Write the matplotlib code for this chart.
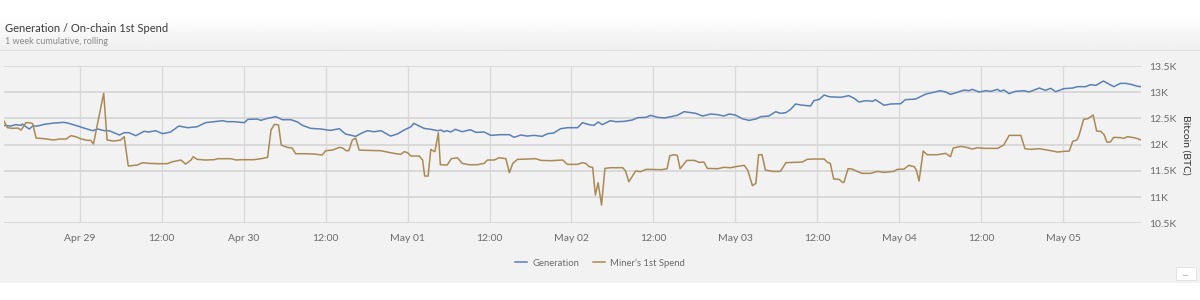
import numpy as np
import matplotlib
matplotlib.use("Agg")
import matplotlib.pyplot as plt
import matplotlib.dates as mdates
from matplotlib.patches import Rectangle

# ...   data (hours since Apr 29 00:00, BTC)
gen_hours = [-11.1, -10.1, -9.4, -8.6, -8.4, -7.9, -7.4, -6.9, -6.2, -5.2, -3.8, -2.3, -1.6, -0.3,
             0.6, 1.9, 2.6, 3.6, 4.3, 5.8, 6.5, 7.2, 8.2, 9.4, 10.1, 11.1, 12.1, 13.3, 14.5, 15.8,
             17.2, 18.4, 19.7, 20.9, 21.6, 22.6, 24.1, 24.6, 26.0, 26.5, 27.5, 28.7, 29.7, 30.9,
             31.9, 32.6, 33.8, 35.3, 36.7, 38.0, 38.9, 40.4, 41.2, 42.1, 43.1, 44.1, 45.5, 46.5,
             47.5, 48.5, 48.9, 50.4, 51.4, 52.4, 52.9, 53.3, 53.8, 54.3, 55.0, 56.0, 57.2, 58.0,
             59.2, 60.2, 61.6, 62.9, 63.6, 64.6, 65.5, 66.5, 67.7, 68.5, 69.4, 70.4, 71.4, 72.9,
             73.6, 74.6, 75.3, 75.9, 76.5, 77.7, 78.5, 79.7, 80.9, 81.7, 82.9, 83.6, 84.6, 85.6,
             86.5, 87.5, 88.5, 89.5, 90.2, 91.2, 92.4, 93.4, 94.3, 95.1, 96.0, 97.0, 98.0, 99.0,
             99.7, 100.9, 101.9, 102.6, 103.4, 104.1, 104.8, 105.6, 107.0, 107.5, 108.3, 109.0,
             109.7, 111.4, 112.6, 113.4, 114.1, 115.1, 116.1, 116.5, 117.8, 118.7, 120.2, 120.9,
             122.4, 123.9, 124.8, 126.0, 126.8, 127.5, 128.5, 129.5, 130.2, 130.7, 131.7, 132.7,
             133.4, 134.4, 134.8, 135.3, 136.1, 137.0, 138.3, 139.0, 140.5, 141.4, 142.2, 142.9,
             144.1, 145.4, 146.1, 147.3, 148.0, 148.8, 149.9, 150.7, 151.4, 152.4, 153.2, 154.1,
             154.9, 155.4]
generation = [12368, 12355, 12381, 12368, 12393, 12342, 12298, 12355, 12355, 12387, 12412, 12425,
              12406, 12355, 12317, 12266, 12298, 12266, 12266, 12184, 12228, 12228, 12171, 12254,
              12241, 12266, 12209, 12241, 12355, 12323, 12342, 12419, 12438, 12457, 12438, 12438,
              12419, 12482, 12489, 12463, 12502, 12533, 12476, 12476, 12432, 12368, 12311, 12298,
              12272, 12304, 12203, 12158, 12215, 12266, 12247, 12266, 12164, 12203, 12279, 12342,
              12406, 12311, 12292, 12266, 12279, 12247, 12266, 12241, 12292, 12247, 12285, 12234,
              12241, 12177, 12190, 12190, 12139, 12184, 12164, 12177, 12158, 12209, 12222, 12304,
              12323, 12323, 12419, 12381, 12368, 12432, 12381, 12457, 12438, 12444, 12470, 12514,
              12521, 12559, 12521, 12508, 12533, 12559, 12629, 12610, 12597, 12546, 12584, 12572,
              12546, 12584, 12565, 12495, 12463, 12489, 12533, 12546, 12629, 12597, 12610, 12673,
              12775, 12756, 12737, 12839, 12864, 12947, 12915, 12902, 12934, 12883, 12813, 12839,
              12826, 12858, 12750, 12775, 12781, 12858, 12870, 12966, 12991, 13029, 13004, 12959,
              12998, 13042, 13029, 13055, 13004, 13029, 13017, 13055, 13017, 13042, 12972, 13017,
              13029, 13004, 13080, 13036, 13074, 13010, 13068, 13080, 13106, 13106, 13144, 13131,
              13214, 13157, 13106, 13169, 13169, 13144, 13112, 13106]

spend_hours = [-11.1, -10.6, -9.9, -9.1, -8.6, -8.2, -7.9, -7.4, -6.9, -6.4, -5.2, -3.8, -3.0,
               -2.0, -1.3, -0.6, 0.1, 1.1, 1.6, 2.0, 2.6, 3.1, 3.5, 4.0, 5.0, 6.0, 6.5, 7.1, 8.4,
               9.2, 10.1, 11.4, 12.8, 13.6, 14.8, 15.5, 16.3, 16.6, 17.2, 18.4, 19.7, 20.2, 22.1,
               22.9, 23.6, 25.5, 26.8, 27.5, 28.0, 28.5, 29.1, 29.5, 30.4, 31.1, 31.6, 33.1, 34.3,
               35.5, 36.0, 37.0, 38.0, 38.5, 39.0, 39.4, 39.9, 40.4, 40.9, 42.1, 44.0, 45.0, 46.0,
               47.0, 47.5, 48.0, 48.5, 49.7, 50.2, 50.5, 51.0, 51.4, 51.7, 52.0, 52.5, 52.8, 53.8,
               54.4, 55.3, 56.0, 57.0, 58.2, 59.2, 59.7, 60.7, 61.4, 62.4, 62.9, 63.4, 64.1, 65.6,
               66.8, 67.5, 69.0, 70.7, 71.4, 72.9, 73.6, 74.1, 74.6, 75.1, 75.5, 75.9, 76.4, 76.9,
               77.7, 79.5, 79.9, 80.4, 81.4, 82.1, 82.9, 83.6, 85.1, 86.0, 86.4, 87.0, 87.5, 87.9,
               88.9, 90.0, 90.7, 91.4, 91.9, 93.4, 94.3, 95.3, 96.3, 97.3, 97.8, 98.5, 99.0, 99.4,
               99.9, 100.4, 101.4, 102.6, 103.4, 104.6, 105.8, 106.5, 107.5, 109.0, 109.5, 109.9,
               110.4, 111.2, 111.7, 111.9, 112.5, 113.1, 113.9, 114.6, 115.8, 116.8, 117.8, 119.2,
               119.7, 120.7, 121.4, 122.2, 122.5, 122.9, 123.5, 124.1, 125.6, 126.8, 127.5, 127.9,
               129.0, 129.9, 130.7, 131.4, 132.4, 134.4, 135.3, 136.1, 137.8, 138.4, 139.2, 140.5,
               141.7, 143.2, 144.1, 144.9, 145.4, 146.0, 146.3, 147.0, 147.6, 148.4, 148.9, 149.5,
               150.0, 150.4, 150.9, 151.4, 152.4, 152.9, 153.4, 154.4, 154.9, 155.4]
miner_spend = [12451, 12324, 12311, 12317, 12279, 12355, 12419, 12419, 12400, 12126, 12114, 12088,
               12107, 12107, 12171, 12152, 12114, 12082, 12082, 12012, 12406, 12724, 12979, 12088,
               12069, 12088, 12152, 11592, 11611, 11656, 11643, 11637, 11637, 11675, 11707, 11630,
               11707, 11770, 11719, 11707, 11713, 11732, 11732, 11707, 11713, 11713, 11738, 11757,
               12279, 12387, 12374, 11993, 11948, 11935, 11827, 11827, 11821, 11802, 11885, 11897,
               11948, 11935, 11885, 11885, 12088, 12126, 11897, 11891, 11885, 11859, 11834, 11815,
               11866, 11846, 11783, 11783, 11707, 11401, 11401, 11910, 11885, 11866, 12228, 11617,
               11611, 11732, 11751, 11643, 11617, 11617, 11643, 11707, 11707, 11751, 11732, 11465,
               11643, 11719, 11726, 11732, 11700, 11694, 11707, 11624, 11624, 11656, 11643, 11579,
               11567, 11039, 11274, 10848, 11547, 11560, 11560, 11503, 11293, 11497, 11484, 11528,
               11528, 11522, 11541, 11789, 11808, 11796, 11541, 11700, 11700, 11662, 11668, 11547,
               11541, 11567, 11560, 11586, 11605, 11516, 11217, 11261, 11808, 11808, 11516, 11490,
               11490, 11656, 11662, 11668, 11719, 11726, 11726, 11662, 11643, 11344, 11338, 11280,
               11280, 11541, 11535, 11484, 11452, 11452, 11490, 11471, 11490, 11528, 11535, 11605,
               11579, 11516, 11306, 11878, 11808, 11808, 11834, 11770, 11935, 11967, 11948,
               11916, 11942, 11929, 11929, 11993, 12177, 12177, 11923, 11910, 11923, 11897, 11859,
               11872, 11878, 12063, 12088, 12164, 12482, 12495, 12565, 12260, 12254, 12190, 12050,
               12050, 12139, 12133, 12120, 12152, 12133, 12114, 12088]

y_ticks = [10500, 11000, 11500, 12000, 12500, 13000, 13500]
y_tick_labels = ["10.5K", "11K", "11.5K", "12K", "12.5K", "13K", "13.5K"]

base = np.datetime64("2019-04-29T00:00")


def to_time(hours):
    return base + (np.asarray(hours) * 3600).astype("timedelta64[s]")


gen_t = to_time(gen_hours)
spend_t = to_time(spend_hours)

BLUE = "#5b80b6"
BROWN = "#a98a55"
PANEL = "#f2f2f2"
GRID = "#d9d9d9"
TXT = "#6b6b6b"
plt.rcParams["font.family"] = ["Lato", "DejaVu Sans"]

fig = plt.figure(figsize=(12, 3), dpi=100, facecolor="white")

# panel background + header
bg = fig.add_axes([0, 17 / 300, 1, 267 / 300], zorder=-10)
bg.set_facecolor(PANEL)
bg.set_axis_off()
bg.add_patch(Rectangle((0, 0), 1, 1, transform=bg.transAxes, facecolor=PANEL, edgecolor="none"))

hax = fig.add_axes([0, 1 - 51 / 300, 1, 35 / 300], zorder=-5)
grad = np.linspace(1.0, 0.935, 64).reshape(-1, 1)
hax.imshow(grad, aspect="auto", cmap="gray", vmin=0, vmax=1, extent=[0, 1, 0, 1])
hax.axhline(0.0, color="#dcdcdc", lw=1.2)
hax.set_axis_off()
fig.text(5 / 1200, 1 - 29 / 300, "Generation / On-chain 1st Spend", fontsize=8, color="#3a3a3a",
         va="center", ha="left")
fig.text(5 / 1200, 1 - 42 / 300, "1 week cumulative, rolling", fontsize=6.5, color="#8a8a8a",
         va="center", ha="left")

# main plot
ax = fig.add_axes([4 / 1200, 1 - 223.3 / 300, 1137 / 1200, 157.3 / 300])
ax.set_facecolor(PANEL)
ax.plot(gen_t, generation, color=BLUE, lw=1.1, label="Generation", zorder=3)
ax.plot(spend_t, miner_spend, color=BROWN, lw=1.1, label="Miner\u2019s 1st Spend", zorder=3)

ax.set_ylim(10500, 13500)
ax.set_xlim(gen_t[0], gen_t[-1])
ax.set_yticks(y_ticks)
ax.set_yticklabels(y_tick_labels)
ax.yaxis.tick_right()
ax.yaxis.set_label_position("right")
ax.set_ylabel("Bitcoin (BTC)", rotation=270, labelpad=10, fontsize=7.5, color="#333333")

ax.xaxis.set_major_locator(mdates.HourLocator(byhour=[0, 12]))


def fmt_date(x, pos):
    d = mdates.num2date(x)
    return "12:00" if d.hour == 12 else d.strftime("%b %d")


ax.xaxis.set_major_formatter(plt.FuncFormatter(fmt_date))
ax.tick_params(axis="both", length=0, labelsize=7.5, labelcolor=TXT)
ax.tick_params(axis="x", pad=8)
ax.tick_params(axis="y", pad=6)
ax.grid(axis="y", color=GRID, lw=1.4, zorder=0)
ax.grid(axis="x", color=GRID, lw=0.9, zorder=0)
for s in ax.spines.values():
    s.set_visible(False)

fig.legend(loc="center", bbox_to_anchor=(0.5, 1 - 263 / 300), ncol=2, frameon=False,
           fontsize=6.8, labelcolor=TXT, handlelength=1.3, handletextpad=0.5, columnspacing=1.5)

# "..." button
fig.patches.append(Rectangle((1176 / 1200, 1 - 280 / 300), 20 / 1200, 13 / 300,
                             transform=fig.transFigure, facecolor="white", edgecolor="#e0e0e0",
                             lw=0.6, zorder=5))
fig.text(1186 / 1200, 1 - 274 / 300, "...", fontsize=6, color="#555555", ha="center",
         va="center", zorder=6)

fig.savefig("out.png", dpi=100, facecolor="white")
